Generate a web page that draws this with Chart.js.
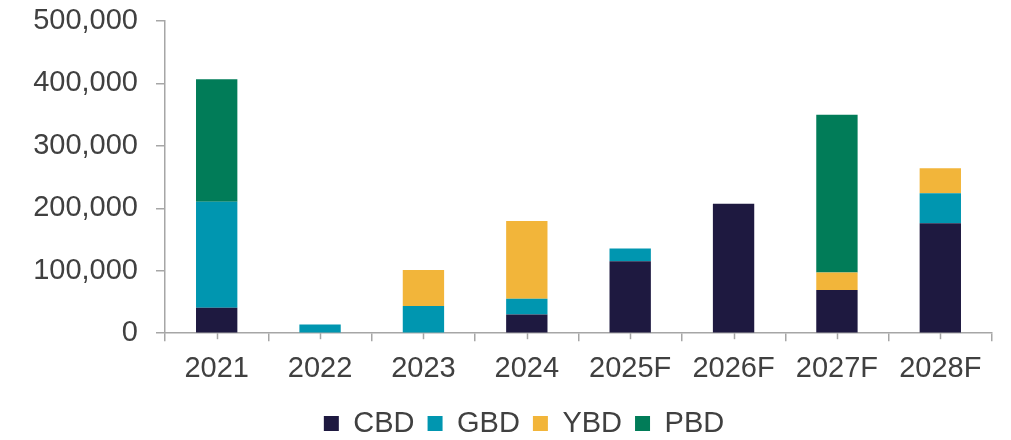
<!DOCTYPE html>
<html>
<head>
<meta charset="utf-8">
<script src="https://cdn.jsdelivr.net/npm/chart.js@4/dist/chart.umd.min.js"></script>
<style>
  html, body { margin: 0; padding: 0; background: #fff; }
  #wrap { width: 1011px; height: 440px; }
</style>
</head>
<body>
<div id="wrap"><canvas id="bar"></canvas></div>
<script>
// values
const years = ["2021", "2022", "2023", "2024", "2025F", "2026F", "2027F", "2028F"];
const cbd = [40700, 0, 0, 30100, 115400, 207200, 69200, 176000];
const gbd = [169700, 14000, 43500, 25100, 20300, 0, 0, 48300];
const ybd = [0, 0, 57900, 124600, 0, 0, 27900, 39800];
const pbd = [196300, 0, 0, 0, 0, 0, 252800, 0];
const yTicks = [0, 100000, 200000, 300000, 400000, 500000];

const axisGrey = "#a6a6a6";
const textGrey = "#404040";
const font = { family: "'Liberation Sans', Arial, sans-serif", size: 29 };

// small ticks at the middle of each category (Excel-style minor ticks)
const centerTicks = {
  id: "centerTicks",
  afterLayout(chart) {
    // legend sits a bit right of the canvas centre in the original
    chart.legend.left += 13;
    chart.legend.right += 13;
  },
  afterDraw(chart) {
    const x = chart.scales.x;
    const ctx = chart.ctx;
    ctx.save();
    ctx.strokeStyle = axisGrey;
    ctx.lineWidth = 1.5;
    years.forEach((y, i) => {
      const px = Math.round(x.getPixelForValue(i)) + 0.5;
      ctx.beginPath();
      ctx.moveTo(px, x.top);
      ctx.lineTo(px, x.top + 6);
      ctx.stroke();
    });
    ctx.restore();
  }
};

function ds(label, data, color) {
  return {
    label: label,
    data: data,
    backgroundColor: color,
    borderWidth: 0,
    barPercentage: 0.4,
    categoryPercentage: 1.0
  };
}

new Chart(document.getElementById("bar"), {
  type: "bar",
  data: {
    labels: years,
    datasets: [
      ds("CBD", cbd, "#1e1940"),
      ds("GBD", gbd, "#0096b0"),
      ds("YBD", ybd, "#f2b53a"),
      ds("PBD", pbd, "#017c58")
    ]
  },
  options: {
    responsive: true,
    maintainAspectRatio: false,
    animation: false,
    layout: { padding: { left: 30, right: 19, top: 21, bottom: -8 } },
    plugins: {
      tooltip: { enabled: false },
      legend: {
        position: "bottom",
        labels: {
          font: font,
          color: textGrey,
          boxWidth: 15,
          boxHeight: 15,
          padding: 13
        }
      }
    },
    scales: {
      x: {
        stacked: true,
        grid: {
          offset: true,
          drawOnChartArea: false,
          drawTicks: true,
          tickLength: 8,
          color: axisGrey,
          lineWidth: 1.5
        },
        border: { color: axisGrey, width: 1.5 },
        ticks: { font: font, color: textGrey, padding: 10 }
      },
      y: {
        stacked: true,
        min: 0,
        max: 500000,
        afterBuildTicks(scale) {
          scale.ticks = yTicks.map(v => ({ value: v }));
        },
        afterFit(scale) {
          scale.width = 135;
          scale.paddingTop = 0;
          scale.paddingBottom = 0;
        },
        grid: {
          drawOnChartArea: false,
          drawTicks: true,
          tickLength: 9,
          color: axisGrey,
          lineWidth: 1.5
        },
        border: { color: axisGrey, width: 1.5 },
        ticks: {
          font: font,
          color: textGrey,
          padding: 18,
          callback: v => v.toLocaleString("en-US")
        }
      }
    }
  },
  plugins: [centerTicks]
});
</script>
</body>
</html>
